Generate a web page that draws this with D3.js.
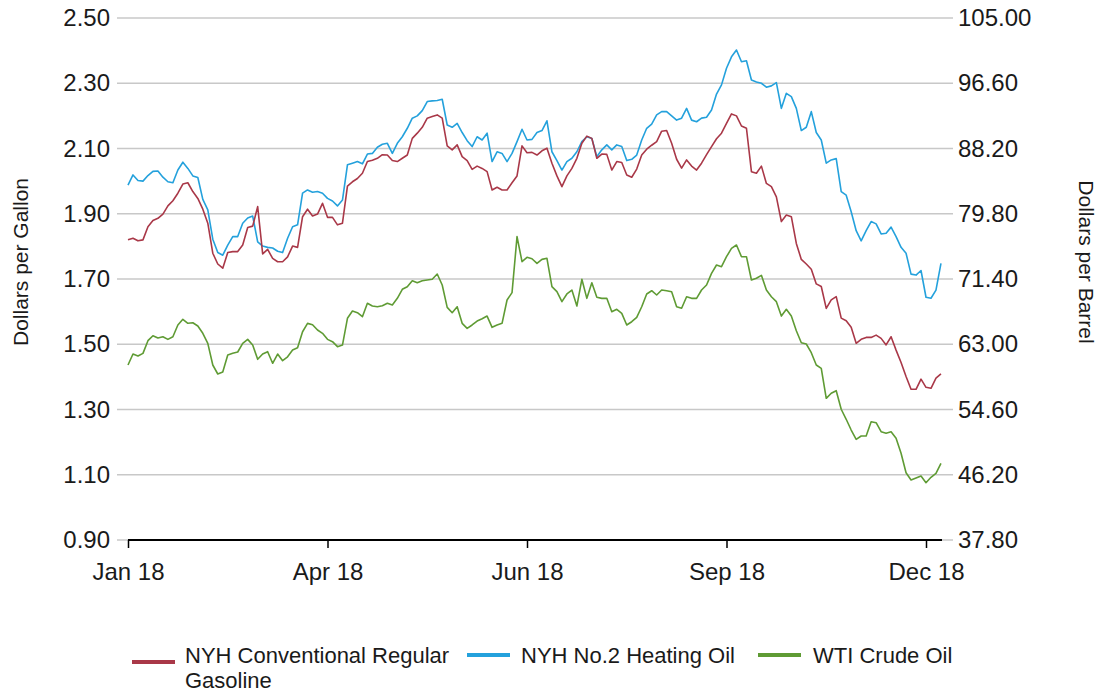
<!DOCTYPE html>
<html>
<head>
<meta charset="utf-8">
<script src="https://d3js.org/d3.v7.min.js"></script>
<style>
  body { margin: 0; background: #fff; }
  text { font-family: "Liberation Sans", Arial, sans-serif; fill: #1a1a1a; }
  .grid line { stroke: #c8c8c8; stroke-width: 1.5; }
  .series { fill: none; stroke-width: 1.6; stroke-linejoin: round; }
</style>
</head>
<body>
<div id="chart"></div>
<script>
// x axis labels, placed every 40 points
var xTickIndex = [0, 40, 80, 120, 160];
var xLabels = ["Jan 18", "Apr 18", "Jun 18", "Sep 18", "Dec 18"];

// tick values for the two value axes
var leftTicks = [0.90, 1.10, 1.30, 1.50, 1.70, 1.90, 2.10, 2.30, 2.50];
var rightTicks = [37.80, 46.20, 54.60, 63.00, 71.40, 79.80, 88.20, 96.60, 105.00];

// NYH Conventional Regular Gasoline, dollars per gallon
var gasoline = [
  1.820, 1.825, 1.817, 1.820, 1.860, 1.879, 1.886, 1.899, 1.924, 1.940,
  1.963, 1.991, 1.995, 1.968, 1.947, 1.914, 1.871, 1.779, 1.746, 1.733,
  1.781, 1.784, 1.784, 1.804, 1.858, 1.862, 1.922, 1.777, 1.791, 1.763,
  1.753, 1.753, 1.768, 1.801,
  1.797, 1.891, 1.914, 1.893, 1.899, 1.932, 1.889, 1.889, 1.866, 1.871,
  1.985, 1.998, 2.008, 2.024, 2.060, 2.064, 2.070, 2.081, 2.080, 2.063,
  2.060, 2.070, 2.080, 2.131, 2.147, 2.165, 2.193, 2.198, 2.203, 2.193,
  2.108, 2.096, 2.111,
  2.075, 2.063, 2.036, 2.046, 2.039, 2.029, 1.973, 1.981, 1.973, 1.973,
  1.995, 2.016, 2.108, 2.087, 2.088, 2.080, 2.093, 2.101, 2.055, 2.016,
  1.983, 2.016, 2.039, 2.070, 2.116, 2.138, 2.131, 2.070, 2.083, 2.082,
  2.034, 2.060, 2.057,
  2.019, 2.012, 2.037, 2.080, 2.098, 2.110, 2.121, 2.153, 2.155, 2.116,
  2.067, 2.040, 2.065, 2.046, 2.034, 2.055, 2.081, 2.106, 2.130, 2.147,
  2.177, 2.206, 2.200, 2.169, 2.162, 2.029, 2.024, 2.046, 1.993, 1.983,
  1.952, 1.876, 1.896,
  1.891, 1.809, 1.760, 1.746, 1.730, 1.685, 1.677, 1.610, 1.636, 1.646,
  1.580, 1.572, 1.552, 1.503, 1.515, 1.521, 1.521, 1.528, 1.518, 1.498,
  1.523, 1.482, 1.444, 1.401, 1.362, 1.362, 1.393, 1.368, 1.365, 1.396,
  1.409
];

// NYH No.2 Heating Oil, dollars per gallon
var heatingOil = [
  1.988, 2.019, 2.002, 2.000, 2.017, 2.030, 2.031, 2.012, 1.998, 1.995,
  2.034, 2.058, 2.039, 2.016, 2.011, 1.944, 1.912, 1.822, 1.781, 1.773,
  1.804, 1.830, 1.830, 1.871, 1.887, 1.893, 1.814, 1.801, 1.797, 1.795,
  1.785, 1.781, 1.825, 1.860,
  1.866, 1.963, 1.973, 1.966, 1.968, 1.963, 1.947, 1.939, 1.924, 1.942,
  2.050, 2.055, 2.060, 2.053, 2.083, 2.085, 2.104, 2.113, 2.116, 2.085,
  2.116, 2.136, 2.162, 2.193, 2.200, 2.216, 2.244, 2.246, 2.247, 2.251,
  2.172, 2.165, 2.177,
  2.149, 2.124, 2.106, 2.136, 2.126, 2.147, 2.060, 2.090, 2.085, 2.060,
  2.085, 2.121, 2.159, 2.126, 2.128, 2.149, 2.155, 2.185, 2.090, 2.063,
  2.034, 2.060, 2.070, 2.090, 2.121, 2.136, 2.131, 2.075, 2.096, 2.111,
  2.096, 2.111, 2.106,
  2.063, 2.067, 2.080, 2.126, 2.162, 2.175, 2.203, 2.213, 2.213, 2.200,
  2.187, 2.193, 2.223, 2.187, 2.182, 2.193, 2.196, 2.218, 2.267, 2.295,
  2.346, 2.381, 2.402, 2.366, 2.369, 2.310, 2.304, 2.300, 2.288, 2.292,
  2.302, 2.223, 2.269,
  2.259, 2.223, 2.155, 2.165, 2.213, 2.149, 2.126, 2.055, 2.065, 2.069,
  1.968, 1.957, 1.906, 1.848, 1.817, 1.848, 1.876, 1.869, 1.838, 1.840,
  1.859, 1.830, 1.797, 1.779, 1.715, 1.712, 1.726, 1.644, 1.641, 1.666,
  1.748
];

// WTI Crude Oil, dollars per barrel (right axis)
var wti = [
  60.33, 61.74, 61.48, 61.83, 63.46, 64.10, 63.80, 63.97, 63.63, 63.97,
  65.48, 66.21, 65.70, 65.77, 65.35, 64.41, 63.12, 60.33, 59.17, 59.43,
  61.61, 61.83, 62.00, 63.12, 63.63, 62.90, 61.06, 61.74, 62.04, 60.55,
  61.74, 60.88, 61.39, 62.26,
  62.55, 64.61, 65.69, 65.52, 64.83, 64.41, 63.63, 63.33, 62.69, 62.90,
  66.34, 67.28, 67.06, 66.55, 68.27, 67.92, 67.83, 67.96, 68.27, 68.05,
  68.91, 70.07, 70.41, 71.18, 70.92, 71.18, 71.27, 71.36, 72.04, 70.63,
  67.75, 67.06, 67.83,
  65.69, 65.05, 65.48, 65.99, 66.29, 66.63, 65.18, 65.48, 65.69, 68.70,
  69.64, 76.85, 73.63, 74.19, 74.01, 73.42, 73.93, 74.06, 70.41, 69.77,
  68.48, 69.47, 69.98, 67.92, 71.36, 68.91, 70.92, 69.04, 68.91, 68.91,
  67.19, 67.50, 66.98,
  65.48, 65.90, 66.47, 67.83, 69.47, 69.89, 69.34, 69.98, 69.89, 69.77,
  67.83, 67.63, 69.12, 68.91, 68.91, 69.98, 70.63, 72.13, 73.20, 72.98,
  74.27, 75.35, 75.78, 74.27, 74.27, 71.27, 71.49, 71.87, 69.98, 69.12,
  68.48, 66.63, 67.50,
  66.63, 64.74, 63.20, 63.03, 61.91, 60.33, 59.90, 56.04, 56.69, 57.02,
  54.63, 53.34, 51.96, 50.76, 51.19, 51.19, 53.03, 52.90, 51.74, 51.54,
  51.74, 50.89, 48.96, 46.46, 45.52, 45.78, 46.04, 45.18, 45.87, 46.39,
  47.67
];

var seriesNames = ["NYH Conventional Regular Gasoline", "NYH No.2 Heating Oil", "WTI Crude Oil"];
var seriesColors = ["#a93848", "#24a1dc", "#5f9b34"];

// overall size and plot box
var width = 1099, height = 692;
var plot = {left: 128, right: 941, top: 18, bottom: 540};
var gridLeft = 117, gridRight = 953;

var svg = d3.select("#chart").append("svg")
    .attr("width", width)
    .attr("height", height);

// scales
var x = d3.scaleLinear()
    .domain([0, 160])
    .range([plot.left, 926]);
var yL = d3.scaleLinear()
    .domain([0.9, 2.5])
    .range([plot.bottom, plot.top]);
var yR = d3.scaleLinear()
    .domain([37.8, 105])
    .range([plot.bottom, plot.top]);

// horizontal grid lines
svg.append("g")
    .attr("class", "grid")
  .selectAll("line")
    .data(leftTicks)
  .enter().append("line")
    .attr("x1", gridLeft)
    .attr("x2", gridRight)
    .attr("y1", function(d) { return yL(d); })
    .attr("y2", function(d) { return yL(d); });

// left axis labels
var leftAxis = svg.append("g")
    .attr("transform", "translate(" + gridLeft + ",0)")
    .call(d3.axisLeft(yL).tickValues(leftTicks).tickFormat(d3.format(".2f")).tickSize(0).tickPadding(7));
leftAxis.select(".domain").remove();

// right axis labels
var rightAxis = svg.append("g")
    .attr("transform", "translate(" + gridRight + ",0)")
    .call(d3.axisRight(yR).tickValues(rightTicks).tickFormat(d3.format(".2f")).tickSize(0).tickPadding(5));
rightAxis.select(".domain").remove();

svg.selectAll(".tick text")
    .attr("font-size", "24px")
    .attr("font-family", "Liberation Sans, Arial, sans-serif")
    .attr("fill", "#1a1a1a");

// bottom axis
var bottomAxis = svg.append("g")
    .attr("transform", "translate(0," + plot.bottom + ")")
    .call(d3.axisBottom(x)
        .tickValues(xTickIndex)
        .tickFormat(function(d, i) { return xLabels[i]; })
        .tickSizeInner(8)
        .tickSizeOuter(0)
        .tickPadding(15));
bottomAxis.select(".domain")
    .attr("d", "M" + plot.left + ",0H" + (plot.right + 1))
    .attr("stroke", "#000")
    .attr("stroke-width", 2);
bottomAxis.selectAll(".tick line")
    .attr("stroke", "#000")
    .attr("stroke-width", 1.5);
bottomAxis.selectAll(".tick text")
    .attr("font-size", "24px")
    .attr("fill", "#1a1a1a");

// the three lines
var lineL = d3.line()
    .x(function(d, i) { return x(i); })
    .y(function(d) { return yL(d); });
var lineR = d3.line()
    .x(function(d, i) { return x(i); })
    .y(function(d) { return yR(d); });

svg.append("path")
    .datum(wti)
    .attr("class", "series")
    .attr("stroke", seriesColors[2])
    .attr("d", lineR);
svg.append("path")
    .datum(heatingOil)
    .attr("class", "series")
    .attr("stroke", seriesColors[1])
    .attr("d", lineL);
svg.append("path")
    .datum(gasoline)
    .attr("class", "series")
    .attr("stroke", seriesColors[0])
    .attr("d", lineL);

// axis titles
svg.append("text")
    .attr("transform", "translate(20,262) rotate(-90)")
    .attr("text-anchor", "middle")
    .attr("dominant-baseline", "central")
    .attr("font-size", "21px")
    .text("Dollars per Gallon");
svg.append("text")
    .attr("transform", "translate(1086,262) rotate(90)")
    .attr("text-anchor", "middle")
    .attr("dominant-baseline", "central")
    .attr("font-size", "21px")
    .text("Dollars per Barrel");

// legend
var legend = svg.append("g").attr("font-size", "22px");

legend.append("line")
    .attr("x1", 132).attr("x2", 175)
    .attr("y1", 662).attr("y2", 662)
    .attr("stroke", seriesColors[0]).attr("stroke-width", 4);
legend.append("text")
    .attr("x", 185).attr("y", 663)
    .text("NYH Conventional Regular");
legend.append("text")
    .attr("x", 185).attr("y", 688)
    .text("Gasoline");

legend.append("line")
    .attr("x1", 467).attr("x2", 510)
    .attr("y1", 655).attr("y2", 655)
    .attr("stroke", seriesColors[1]).attr("stroke-width", 4);
legend.append("text")
    .attr("x", 521).attr("y", 663)
    .text(seriesNames[1]);

legend.append("line")
    .attr("x1", 758).attr("x2", 801)
    .attr("y1", 655).attr("y2", 655)
    .attr("stroke", seriesColors[2]).attr("stroke-width", 4);
legend.append("text")
    .attr("x", 813).attr("y", 663)
    .text(seriesNames[2]);
</script>
</body>
</html>
